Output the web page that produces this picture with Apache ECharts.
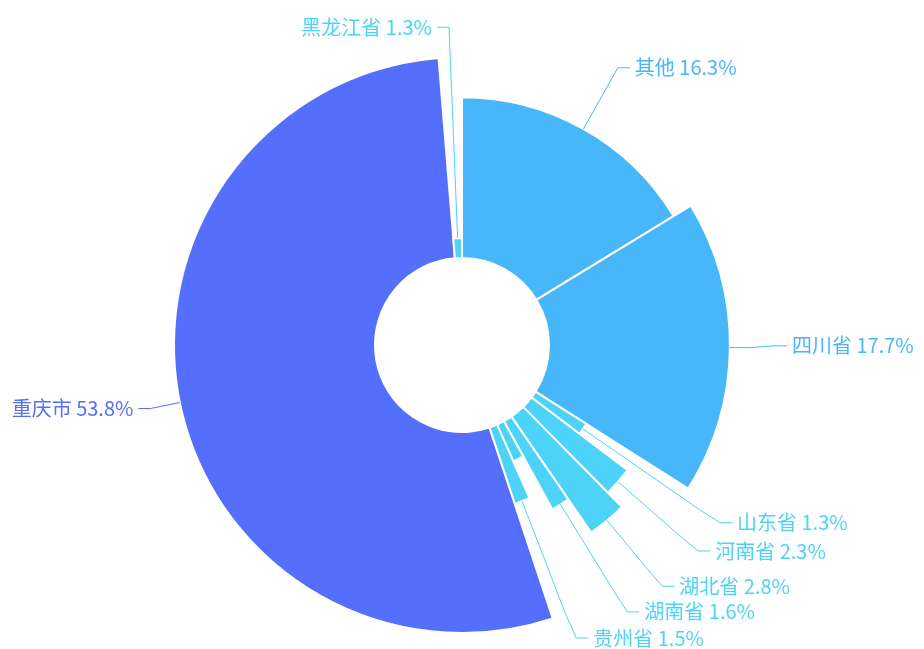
<!DOCTYPE html>
<html>
<head>
<meta charset="utf-8">
<script src="https://cdn.jsdelivr.net/npm/echarts@6/dist/echarts.min.js"></script>
<style>
html,body{margin:0;padding:0;background:#ffffff;}
#chart{width:924px;height:649px;}
</style>
</head>
<body>
<div id="chart"></div>
<script>
// ---- data ----
const categories = ['其他', '四川省', '山东省', '河南省', '湖北省', '湖南省', '未知', '贵州省', '重庆市', '黑龙江省'];
const percents   = [16.3, 17.7, 1.3, 2.3, 2.8, 1.6, 1.4, 1.5, 53.8, 1.3];
const radiusRank = [8, 9, 3, 6, 7, 5, 2, 4, 10, 1];
const labelShown = [true, true, true, true, true, true, false, true, true, true];

// ---- styles ----
const DEEP = '#546ffb', LIGHT = '#48b7fa', CYAN = '#4dd3f8';
const sliceColors = [LIGHT, LIGHT, CYAN, CYAN, CYAN, CYAN, CYAN, CYAN, DEEP, CYAN];
const CENTER = [462, 345];
const R0 = 87, R = 288;
const RANK_MAX = 10;

const total = percents.reduce((a, b) => a + b, 0);
let acc = 0;
const sectorData = percents.map((v, i) => {
  const s = acc; acc += v;
  return [s, acc, radiusRank[i], i];
});

const chart = echarts.init(document.getElementById('chart'), null, {renderer: 'canvas'});

function renderSector(params, api) {
  const cs = params.coordSys;
  const cx = cs.cx, cy = cs.cy;
  const a0 = api.value(0), a1 = api.value(1), rv = api.value(2), idx = api.value(3);
  const ang = p => Math.atan2(p[1] - cy, p[0] - cx);
  const dist = p => Math.hypot(p[0] - cx, p[1] - cy);
  const pIn = api.coord([0, a0]);
  const pOut0 = api.coord([rv, a0]);
  const pOut1 = api.coord([rv, a1]);
  const mid = (a0 + a1) / 2;
  const pMid = api.coord([rv, mid]);
  const pEdge = api.coord([RANK_MAX, mid]);
  let sa = ang(pOut0), ea = ang(pOut1);
  if (ea <= sa) ea += Math.PI * 2;
  const color = sliceColors[idx];
  const children = [{
    type: 'sector',
    shape: {cx: cx, cy: cy, r0: dist(pIn), r: dist(pOut0), startAngle: sa, endAngle: ea, clockwise: true},
    style: {fill: color, stroke: '#ffffff', lineWidth: 2}
  }];
  if (labelShown[idx] && rv < RANK_MAX) {
    children.push({
      type: 'line',
      shape: {x1: pMid[0], y1: pMid[1], x2: pEdge[0], y2: pEdge[1]},
      style: {stroke: color, lineWidth: 1}
    });
  }
  return {type: 'group', children: children};
}

const option = {
  animation: false,
  backgroundColor: '#ffffff',
  polar: {center: CENTER, radius: [R0, R]},
  angleAxis: {type: 'value', min: 0, max: total, startAngle: 90, clockwise: true, show: false},
  radiusAxis: {type: 'value', min: 0, max: RANK_MAX, show: false},
  series: [
    {
      type: 'custom',
      coordinateSystem: 'polar',
      silent: true,
      data: sectorData,
      renderItem: renderSector
    },
    {
      type: 'pie',
      center: CENTER,
      radius: [R0, R],
      startAngle: 90,
      clockwise: true,
      silent: true,
      z: 3,
      avoidLabelOverlap: true,
      itemStyle: {color: 'rgba(0,0,0,0)', borderWidth: 0},
      label: {
        show: true,
        formatter: '{b} {c}%',
        fontSize: 20,
        fontFamily: '"Microsoft YaHei","Noto Sans CJK SC",sans-serif',
        overflow: 'none',
        distanceToLabelLine: 5
      },
      labelLine: {show: true, length: 30, length2: 12, smooth: false, lineStyle: {width: 1}},
      data: categories.map((n, i) => ({
        name: n,
        value: percents[i],
        label: {show: labelShown[i], color: sliceColors[i]},
        labelLine: {show: labelShown[i], lineStyle: {color: sliceColors[i]}}
      }))
    }
  ]
};
chart.setOption(option);
</script>
</body>
</html>
